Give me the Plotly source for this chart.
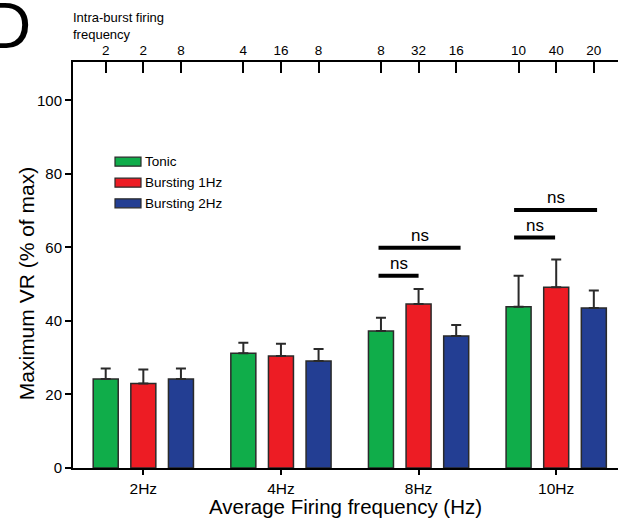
import plotly.graph_objects as go

# ---------------- data ----------------
groups = ["2Hz", "4Hz", "8Hz", "10Hz"]
series = ["Tonic", "Bursting 1Hz", "Bursting 2Hz"]
tonic = [24.2, 31.2, 37.3, 43.9]
tonic_err = [2.9, 2.9, 3.6, 8.4]
burst1 = [23.0, 30.5, 44.6, 49.2]
burst1_err = [3.8, 3.3, 4.1, 7.5]
burst2 = [24.2, 29.1, 35.9, 43.5]
burst2_err = [2.9, 3.3, 3.0, 4.8]
intra_burst = [["2", "2", "8"], ["4", "16", "8"], ["8", "32", "16"], ["10", "40", "20"]]
# significance brackets: (group index, x start offset, x end offset, y level, label)
brackets = [
    (2, -0.291, 0.000, 52.3, "ns"),
    (2, -0.291, 0.305, 59.9, "ns"),
    (3, -0.306, -0.008, 62.7, "ns"),
    (3, -0.306, 0.297, 70.2, "ns"),
]

colors = ["#10AD4A", "#ED1C24", "#233E93"]
values = [tonic, burst1, burst2]
errors = [tonic_err, burst1_err, burst2_err]

FONT = "Liberation Sans, Arial, sans-serif"
W, H = 618, 518
ML, MR, MT, MB = 73, 0, 62, 50
BARGAP = 0.18
XR = [-0.511, 3.449]
YR = [0, 110.45]

fig = go.Figure()
for name, vals, errs, col in zip(series, values, errors, colors):
    fig.add_trace(go.Bar(
        x=groups, y=vals, name=name, showlegend=False,
        marker=dict(color=col, line=dict(color="#2a2a2a", width=1.5)),
        error_y=dict(type="data", array=errs, arrayminus=[0] * len(errs),
                     symmetric=False, color="#2a2a2a", thickness=2, width=5),
    ))

# top axis: intra-burst firing frequency ticks at each bar position
slot = (1 - BARGAP) / 3
top_vals, top_text = [], []
for gi, labs in enumerate(intra_burst):
    for bi, lab in enumerate(labs):
        top_vals.append(gi + (bi - 1) * slot)
        top_text.append(lab)
fig.add_trace(go.Scatter(x=top_vals, y=[0] * len(top_vals), xaxis="x2", mode="markers",
                         marker=dict(opacity=0), showlegend=False, hoverinfo="skip"))

# significance brackets
for gi, a, b, yv, lab in brackets:
    fig.add_shape(type="line", xref="x", yref="y", x0=gi + a, x1=gi + b, y0=yv, y1=yv,
                  line=dict(color="black", width=4))
    fig.add_annotation(x=gi + (a + b) / 2, y=yv, xref="x", yref="y", text=lab,
                       showarrow=False, yanchor="middle", yshift=12,
                       font=dict(family=FONT, size=17, color="black"))

# manual legend
pw = W - ML - MR
ph = H - MT - MB
def px_x(p):
    return (p - ML) / pw
def px_y(p):
    return (H - MB - p) / ph
legend_rows = [161.7, 182.7, 203.3]
for name, col, yc in zip(series, colors, legend_rows):
    fig.add_shape(type="rect", xref="paper", yref="paper",
                  x0=px_x(115), x1=px_x(141), y0=px_y(yc + 4.5), y1=px_y(yc - 4.5),
                  fillcolor=col, line=dict(color="#2a2a2a", width=1.2))
    fig.add_annotation(x=px_x(143), y=px_y(yc), xref="paper", yref="paper", text=name,
                       showarrow=False, xanchor="left", yanchor="middle",
                       font=dict(family=FONT, size=13.5, color="black"))

# axis titles
fig.add_annotation(x=px_x(26), y=50, xref="paper", yref="y", text="Maximum VR (% of max)",
                   showarrow=False, textangle=-90, xanchor="center", yanchor="middle",
                   font=dict(family=FONT, size=21, color="black"))
fig.add_annotation(x=0.5, y=px_y(506), xref="paper", yref="paper",
                   text="Average Firing frequency (Hz)",
                   showarrow=False, xanchor="center", yanchor="middle", borderpad=0,
                   font=dict(family=FONT, size=20.5, color="black"))
fig.add_annotation(x=px_x(71), y=px_y(26), xref="paper", yref="paper",
                   text="Intra-burst firing<br>frequency", align="left",
                   showarrow=False, xanchor="left", yanchor="middle",
                   font=dict(family=FONT, size=13, color="black"))
# panel letter (partly cut off at the left edge, as in the original panel)
fig.add_annotation(x=px_x(33), y=px_y(26), xref="paper", yref="paper", text="D",
                   showarrow=False, xanchor="right", yanchor="middle",
                   font=dict(family=FONT, size=64, color="black"))

fig.update_layout(
    width=W, height=H,
    margin=dict(l=ML, r=MR, t=MT, b=MB, pad=0),
    paper_bgcolor="white", plot_bgcolor="white",
    barmode="group", bargap=BARGAP, bargroupgap=0.335,
    font=dict(family=FONT, color="black"),
    xaxis=dict(range=XR, showline=True, linecolor="black", linewidth=2,
               ticks="outside", ticklen=5, tickwidth=2, tickcolor="black",
               tickfont=dict(size=15.5), showgrid=False, zeroline=False),
    xaxis2=dict(range=XR, overlaying="x", side="top", anchor="y", type="linear",
                tickmode="array", tickvals=top_vals, ticktext=top_text,
                showline=True, linecolor="black", linewidth=2,
                ticks="inside", ticklen=11, tickwidth=2, tickcolor="black",
                tickfont=dict(size=13.5), showgrid=False, zeroline=False),
    yaxis=dict(range=YR, tickvals=[0, 20, 40, 60, 80, 100], showline=True,
               linecolor="black", linewidth=2, ticks="outside", ticklen=6, tickwidth=2,
               tickcolor="black", tickfont=dict(size=15), showgrid=False, zeroline=False),
)

fig.write_html("out.html")
